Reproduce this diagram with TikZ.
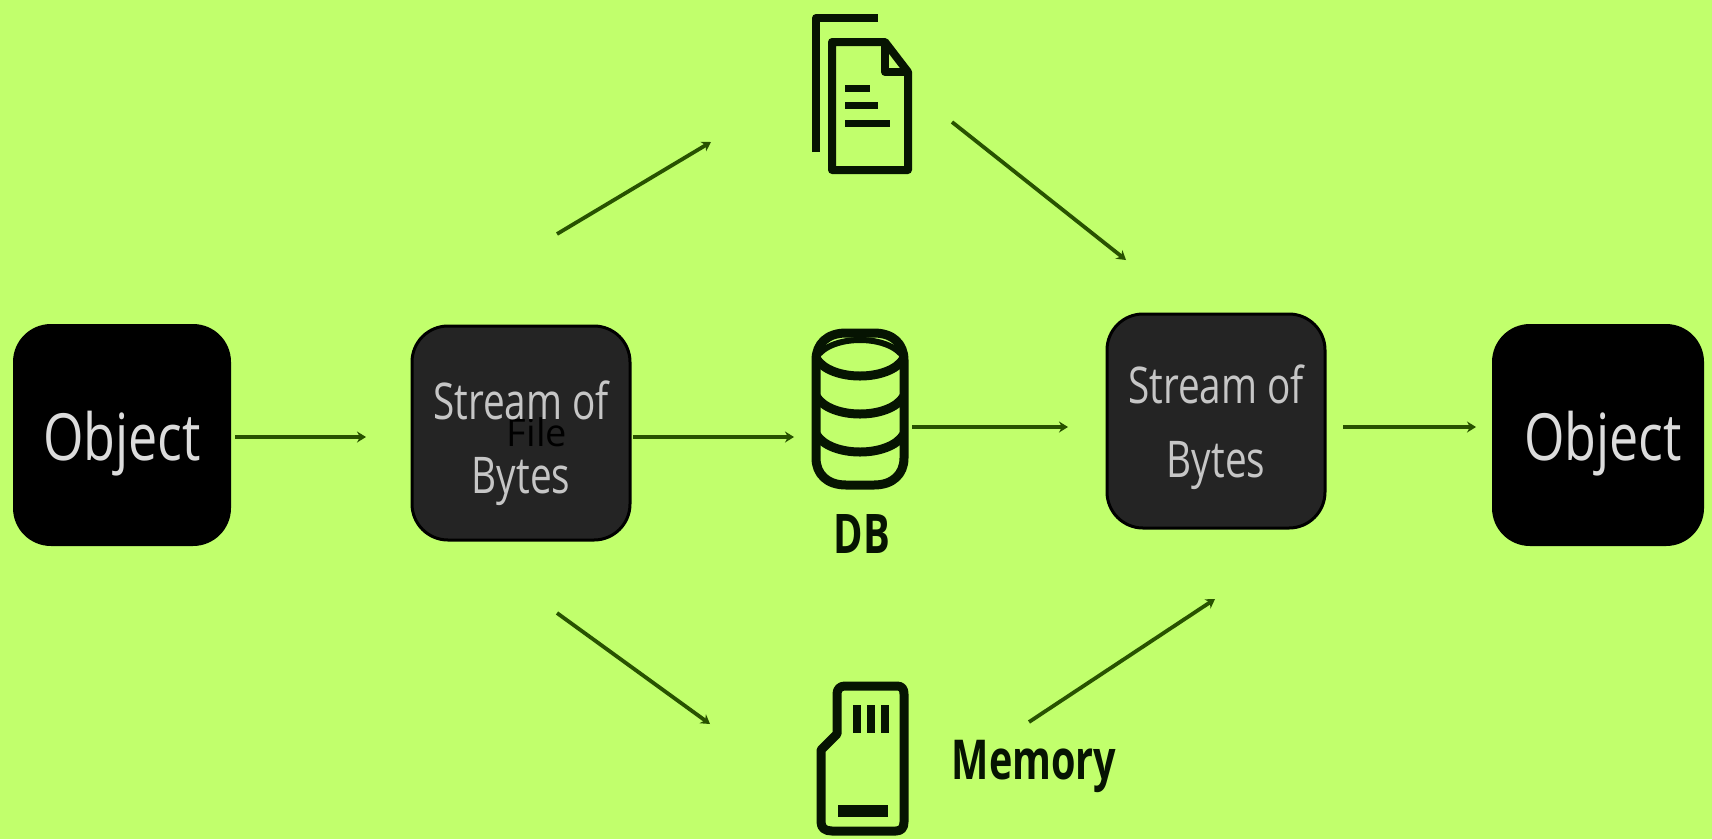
\documentclass[tikz,border=0pt]{standalone}
\usepackage{fontspec}
\setmainfont{Open Sans}
\usetikzlibrary{arrows.meta}
\definecolor{bgc}{HTML}{C1FF6C}
\definecolor{arrowc}{HTML}{285200}
\definecolor{inkc}{HTML}{061402}
\definecolor{panelc}{HTML}{242424}
\definecolor{softw}{HTML}{DCDCDC}
\tikzset{
  objbox/.style={fill=black,rounded corners=38pt,minimum width=218pt,minimum height=222pt,inner sep=0pt},
  bytebox/.style={fill=panelc,draw=black,line width=3pt,rounded corners=36pt,minimum width=218pt,minimum height=214pt,inner sep=0pt},
  flow/.style={draw=arrowc,line width=4.5pt,-{Stealth[length=9pt,width=11pt]}},
  thinflow/.style={flow,line width=3.8pt},
  icon/.style={draw=inkc,line width=9pt,line join=round},
  iconholder/.style={minimum width=100pt,minimum height=150pt,inner sep=0pt},
  objtxt/.style={text=softw,align=center},
  lab/.style={text=inkc,font=\bfseries}
}
\newcommand{\sz}[2]{\fontsize{#1}{#2}\selectfont}
\begin{document}
\begin{tikzpicture}[x=1pt,y=-1pt]
\useasboundingbox (0,0) rectangle (1712,839);
\fill[bgc] (0,0) rectangle (1712,839);

% boxes
\node[objbox] (o1) at (122,435) {};
\node[bytebox] (s1) at (521,433) {};
\node[bytebox] (s2) at (1216,421) {};
\node[objbox,minimum width=212pt] (o2) at (1598,435) {};

\node[iconholder] (file) at (862,92) {};
\node[iconholder] (db) at (860,409) {};
\node[iconholder] (mem) at (862,759) {};

% texts
\node[objtxt,font=\sz{52}{60}] at (122,444) {\scalebox{1.0}[1.25]{Object}};
\node[objtxt,font=\sz{52}{60}] at (1603,444) {\scalebox{1.0}[1.25]{Object}};
\node[text=black,font=\sz{38}{44}] at (537,432) {File};
\node[objtxt,font=\sz{44}{54},text=softw!90!black] at (521,443) {\scalebox{0.88}[1.15]{Stream of}\\[20pt]\scalebox{0.88}[1.15]{Bytes}};
\node[objtxt,font=\sz{44}{54},text=softw!90!black] at (1216,427) {\scalebox{0.88}[1.15]{Stream of}\\[20pt]\scalebox{0.88}[1.15]{Bytes}};
\node[lab,font=\sz{42}{46}\bfseries] at (862,534) {\scalebox{0.95}[1.3]{DB}};
\node[lab,font=\sz{44}{50}\bfseries] at (1034,766) {\scalebox{0.9}[1.25]{Memory}};

% file icon
\draw[icon,line width=8pt] (816,152) -- (816,18) -- (878,18);
\draw[icon,line width=8pt] (885,42) -- (832,42) -- (832,170) -- (908,170) -- (908,72) -- cycle;
\draw[icon,line width=8pt] (885,42) -- (885,72) -- (908,72);
\foreach \yy/\xe in {88/870,105/878,123/890}
  \draw[inkc,line width=7pt] (845,\yy) -- (\xe,\yy);

% database icon
\draw[icon] (846,333) -- (874,333) .. controls (893,333) and (904,344) .. (904,360) -- (904,458) .. controls (904,474) and (893,485) .. (874,485) -- (846,485) .. controls (827,485) and (816,474) .. (816,458) -- (816,360) .. controls (816,344) and (827,333) .. (846,333) -- cycle;
\draw[icon] (816,358) .. controls (830,382) and (890,382) .. (904,358);
\draw[icon] (816,396) .. controls (830,420) and (890,420) .. (904,396);
\draw[icon] (816,434) .. controls (830,458) and (890,458) .. (904,434);
\draw[icon,line width=6pt] (816,358) .. controls (830,334) and (890,334) .. (904,358);

% memory card icon
\draw[icon] (845,686) -- (897,686) .. controls (902,686) and (904,689) .. (904,694) -- (904,822) .. controls (904,828) and (901,831) .. (896,831) -- (832,831) .. controls (825,831) and (821,828) .. (821,822) -- (821,750) -- (837,734) -- (837,694) .. controls (837,689) and (840,686) .. (845,686) -- cycle;
\foreach \xx in {857,871,885}
  \draw[inkc,line width=8pt] (\xx,705) -- (\xx,733);
\draw[inkc,line width=12pt] (838,811) -- (888,811);

% free ends
\coordinate (a1) at (557,234);
\coordinate (a2) at (711,142);
\coordinate (b1) at (952,122);
\coordinate (b2) at (1126,260);
\coordinate (c1) at (557,613);
\coordinate (c2) at (710,724);
\coordinate (d1) at (1029,722);
\coordinate (d2) at (1215,599);
\coordinate (e1) at (235,437);
\coordinate (e2) at (366,437);
\coordinate (f1) at (633,437);
\coordinate (f2) at (794,437);
\coordinate (g1) at (912,427);
\coordinate (g2) at (1068,427);
\coordinate (h1) at (1343,427);
\coordinate (h2) at (1476,427);

% connectors
\draw[flow] (e1) -- (e2);
\draw[flow] (f1) -- (f2);
\draw[flow] (g1) -- (g2);
\draw[flow] (h1) -- (h2);
\draw[thinflow] (a1) -- (a2);
\draw[thinflow] (b1) -- (b2);
\draw[thinflow] (c1) -- (c2);
\draw[thinflow] (d1) -- (d2);
\end{tikzpicture}
\end{document}
